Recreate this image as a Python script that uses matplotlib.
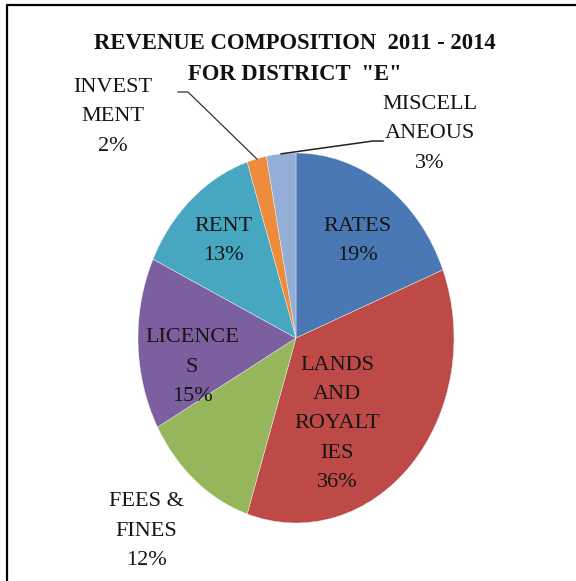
import numpy as np
import matplotlib
matplotlib.use("Agg")
import matplotlib.pyplot as plt
from matplotlib.lines import Line2D

# revenue composition, clockwise from 12 o'clock
categories = ["RATES", "LANDS AND ROYALTIES", "FEES & FINES", "LICENCES",
              "RENT", "INVESTMENT", "MISCELLANEOUS"]
shares = [19, 36, 12, 15, 13, 2, 3]
label_text = ["RATES\n19%", "LANDS\nAND\nROYALT\nIES\n36%", "FEES &\nFINES\n12%",
              "LICENCE\nS\n15%", "RENT\n13%", "INVEST\nMENT\n2%", "MISCELL\nANEOUS\n3%"]
colors = ["#4A78B4", "#BD4A47", "#95B65A", "#7C5F9F", "#47A6C0", "#EE8C3D", "#94AFD7"]

W, H = 576, 581
plt.rcParams['font.family'] = ['Liberation Serif', 'DejaVu Serif']

fig = plt.figure(figsize=(W / 100, H / 100), dpi=100)


def fx(x):
    return x / W


def fy(y):
    # pixel rows measured from the top
    return 1 - y / H


# pie is an ellipse: bbox x 138..454, y 153..523 (pixels)
ax = fig.add_axes([fx(138), fy(523), fx(454) - fx(138), (523 - 153) / H])
wedges, _ = ax.pie(shares, colors=colors, startangle=90, counterclock=False,
                   wedgeprops=dict(edgecolor='#f2f2f2', linewidth=0.3))
ax.set_aspect('auto')
ax.set_xlim(-1, 1)
ax.set_ylim(-1, 1)
ax.axis('off')

fs = 16
ls = 1.72
txt_kw = dict(ha='center', va='center', fontsize=fs, linespacing=ls,
              color='#151515', transform=fig.transFigure)

# label centres in pixels (x, y of block centre)
label_pos = [(357, 241), (337, 424), (146, 531), (192, 367), (223, 241),
             (113, 117), (430, 134)]
for txt, (px, py) in zip(label_text, label_pos):
    fig.text(fx(px), fy(py), txt, **txt_kw)

fig.text(fx(295), fy(59), 'REVENUE COMPOSITION  2011 - 2014\nFOR DISTRICT  "E"',
         ha='center', va='center', fontsize=16.3, fontweight='bold',
         linespacing=1.63, color='#111111', transform=fig.transFigure)


# leader lines from small slices to their labels
def rim_point(idx):
    start = 90 - 360 * sum(shares[:idx]) / 100
    mid = start - 360 * shares[idx] / 200
    a = np.deg2rad(mid)
    return ax.transData.transform((np.cos(a), np.sin(a)))


inv = rim_point(5)
mis = rim_point(6)
fig.add_artist(Line2D([fx(178), fx(188), inv[0] / W], [fy(92), fy(92), inv[1] / H],
                      color='#333333', lw=0.9, transform=fig.transFigure))
fig.add_artist(Line2D([fx(383), fx(373), mis[0] / W], [fy(141), fy(141), mis[1] / H],
                      color='#222222', lw=1.1, transform=fig.transFigure))

# chart frame (only left and top edges fall inside the picture)
fig.add_artist(Line2D([fx(7), fx(7), fx(580)], [fy(590), fy(5), fy(5)],
                      color='black', lw=1.6, transform=fig.transFigure))

fig.savefig('out.png', dpi=100)
